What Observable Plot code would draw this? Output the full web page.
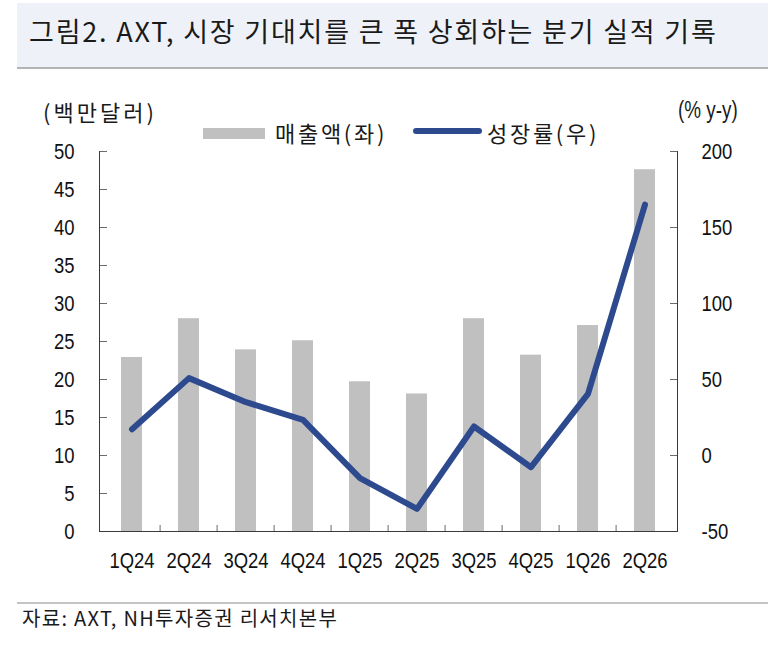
<!DOCTYPE html>
<html>
<head>
<meta charset="utf-8">
<script src="https://cdn.jsdelivr.net/npm/d3@7"></script>
<script src="https://cdn.jsdelivr.net/npm/@observablehq/plot@0.6"></script>
<style>
  html, body { margin: 0; padding: 0; background: #fff; }
  #wrap { position: relative; width: 776px; height: 655px; overflow: hidden; font-family: "Noto Sans CJK KR", sans-serif; color: #1a1a1a; }
  .abs { position: absolute; white-space: nowrap; }
  #titlebox { left: 17px; top: 3px; width: 751px; height: 64px; background: #eef2f8; border-bottom: 2px solid #b4b4b4; }
  #title { left: 29px; top: 17px; font-size: 27px; line-height: 27px; letter-spacing: 1.8px; }
  .kr22 { font-size: 22px; line-height: 22px; letter-spacing: 2.7px; }
  .narrow { font-family: "Liberation Sans", Arial, sans-serif; transform: scaleX(0.82); transform-origin: left center; }
  #chart { left: 0; top: 80px; }
  #capline { left: 17px; top: 602px; width: 751px; height: 2px; background: #c4c4c4; }
  #caption { left: 22px; top: 608px; font-size: 20px; line-height: 20px; letter-spacing: 1.3px; }
</style>
</head>
<body>
<div id="wrap">
  <div id="titlebox" class="abs"></div>
  <div id="title" class="abs">그림2. AXT, 시장 기대치를 큰 폭 상회하는 분기 실적 기록</div>
  <div id="chart" class="abs"></div>
  <div id="unitL" class="abs kr22" style="left:43px; top:100px; letter-spacing:3px;">(백만달러)</div>
  <div id="unitR" class="abs narrow" style="left:678px; top:99px; font-size:23px; line-height:23px;">(% y-y)</div>
  <div id="legend"></div>
  <div id="capline" class="abs"></div>
  <div id="caption" class="abs">자료: AXT, NH투자증권 리서치본부</div>
</div>
<script>
// ---- data ----
const quarters = ["1Q24", "2Q24", "3Q24", "4Q24", "1Q25", "2Q25", "3Q25", "4Q25", "1Q26", "2Q26"];
const sales = [22.9, 28.0, 23.9, 25.1, 19.7, 18.1, 28.0, 23.2, 27.1, 47.6];      // 매출액 (백만달러)
const growth = [17.3, 50.9, 35.1, 23.5, -14.9, -35.1, 19.1, -7.7, 40.6, 165.1]; // 성장률 (% y-y)
const leftTicks = [0, 5, 10, 15, 20, 25, 30, 35, 40, 45, 50];
const rightTicks = [-50, 0, 50, 100, 150, 200];
const seriesNames = ["매출액(좌)", "성장률(우)"];

const barColor = "#c0c0c0";
const lineColor = "#2e4a8e";

const rows = quarters.map((q, i) => ({q, sales: sales[i], growth: growth[i]}));

// right axis (growth) mapped onto the left axis units
const g2l = d3.scaleLinear().domain([-50, 200]).range([0, 50]);

const W = 776, H = 500;
const mL = 99, mR = 99, mT = 71, mB = 49;
const plotW = W - mL - mR, plotH = H - mT - mB;
const step = plotW / quarters.length;

const chart = Plot.plot({
  width: W,
  height: H,
  marginLeft: mL,
  marginRight: mR,
  marginTop: mT,
  marginBottom: mB,
  style: {fontFamily: "'Liberation Sans', Arial, sans-serif", fontSize: "22px", color: "#111", background: "transparent", overflow: "visible"},
  x: {type: "band", domain: quarters, paddingInner: 0.625, paddingOuter: 0.3125, label: null},
  y: {domain: [0, 50], label: null},
  marks: [
    Plot.barY(rows, {x: "q", y: "sales", fill: barColor}),
    // inner ticks
    Plot.tickY(leftTicks.slice(1), {y: d => d, insetRight: plotW - 8, stroke: "#6b6b6b", strokeWidth: 1}),
    Plot.tickY(rightTicks.slice(1).map(g2l), {y: d => d, insetLeft: plotW - 7, stroke: "#6b6b6b", strokeWidth: 1}),
    Plot.tickX(quarters.slice(1), {x: d => d, dx: -step / 2, insetTop: plotH - 6, stroke: "#6b6b6b", strokeWidth: 1}),
    // axis lines
    Plot.frame({anchor: "left", stroke: "#3a3a3a"}),
    Plot.frame({anchor: "right", stroke: "#3a3a3a"}),
    Plot.frame({anchor: "bottom", stroke: "#3a3a3a"}),
    // tick labels
    Plot.axisY(leftTicks, {anchor: "left", tickSize: 0, tickPadding: 25}),
    Plot.axisY(rightTicks.map(g2l), {anchor: "right", tickSize: 0, tickPadding: 24, tickFormat: d => Math.round(g2l.invert(d))}),
    Plot.axisX({tickSize: 0, tickPadding: 21}),
    // growth line
    Plot.line(rows, {x: "q", y: d => g2l(d.growth), stroke: lineColor, strokeWidth: 6, strokeLinecap: "round", strokeLinejoin: "round"})
  ]
});
document.getElementById("chart").appendChild(chart);

// condense tick labels (narrow face look): scale horizontally about each label's anchor point
chart.querySelectorAll('g[aria-label$="tick label"] text').forEach(t => {
  const tr = t.getAttribute("transform");
  if (tr) t.setAttribute("transform", tr + " scale(0.84,1)");
});

// legend
const legend = document.getElementById("legend");
legend.innerHTML = `
  <div class="abs" style="left:203px; top:128px; width:62px; height:11px; background:${barColor};"></div>
  <div class="abs kr22" style="left:275px; top:121px;">${seriesNames[0]}</div>
  <div class="abs" style="left:413px; top:128px; width:69px; height:6px; border-radius:3px; background:${lineColor};"></div>
  <div class="abs kr22" style="left:487px; top:121px;">${seriesNames[1]}</div>
`;
</script>
</body>
</html>
